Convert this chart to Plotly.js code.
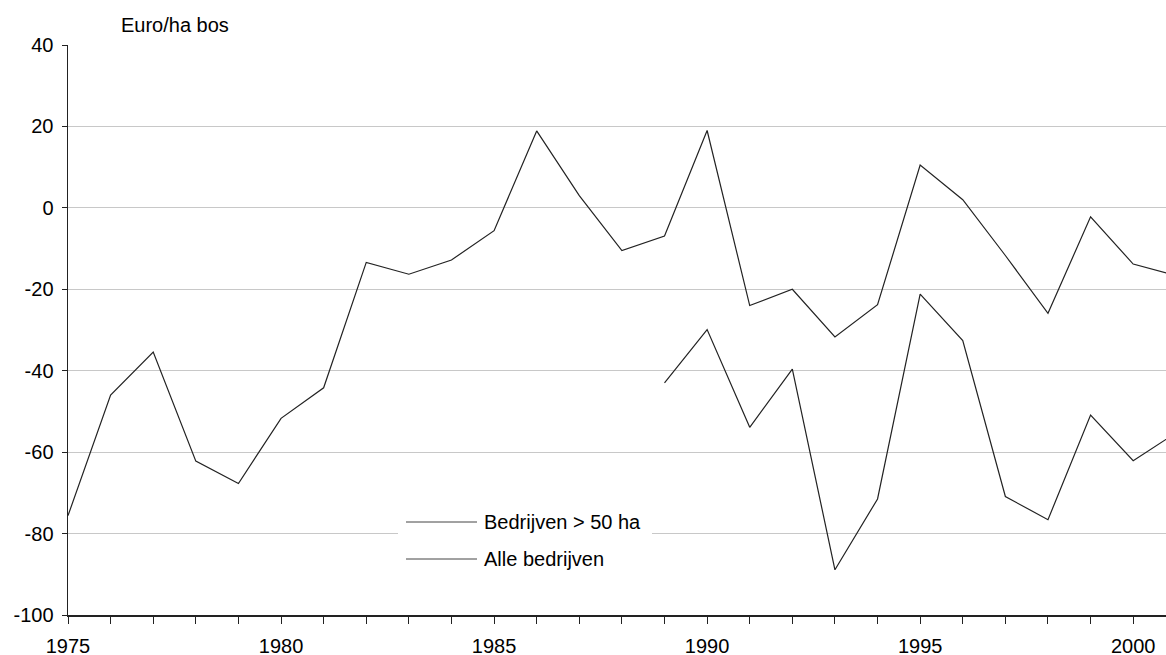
<!DOCTYPE html>
<html>
<head>
<meta charset="utf-8">
<script src="https://cdn.plot.ly/plotly-3.0.1.min.js"></script>
<style>html,body{margin:0;padding:0;background:#fff;}#chart{width:1166px;height:655px;}</style>
</head>
<body>
<div id="chart"></div>
<script>
// Data
const yearsAll = [1975,1976,1977,1978,1979,1980,1981,1982,1983,1984,1985,1986,1987,1988,1989,1990,1991,1992,1993,1994,1995,1996,1997,1998,1999,2000,2001];
const valuesAll = [-75.6,-46.0,-35.4,-62.2,-67.7,-51.7,-44.2,-13.4,-16.3,-12.8,-5.6,18.9,3.0,-10.5,-6.9,19.0,-24.0,-20.0,-31.7,-23.8,10.5,2.0,-11.7,-25.9,-2.2,-13.8,-16.6];
const yearsLarge = [1989,1990,1991,1992,1993,1994,1995,1996,1997,1998,1999,2000,2001];
const valuesLarge = [-43.0,-29.9,-53.9,-39.6,-88.9,-71.5,-21.2,-32.6,-70.9,-76.6,-50.9,-62.1,-55.3];
const seriesNames = ["Bedrijven > 50 ha", "Alle bedrijven"];
const yTickVals = [-100,-80,-60,-40,-20,0,20,40];
const yTickText = ["-100","-80","-60","-40","-20","0","20","40"];
const xTickYears = yearsAll.slice(0, 26);
const xTickText = xTickYears.map(y => (y % 5 === 0 ? String(y) : ""));
const yUnit = "Euro/ha bos";

const font = "Liberation Sans, Arial, sans-serif";
const fs = 20;
const W = 1166, H = 655;
const mL = 68, mR = 0, mT = 45, mB = 40;
const pw = W - mL - mR, ph = H - mT - mB;
function px(x){ return (x - mL) / pw; }
function py(y){ return (H - mB - y) / ph; }

const traces = [
  {x: yearsLarge, y: valuesLarge, name: seriesNames[0], type: "scatter", mode: "lines",
   line: {color: "#222", width: 1.2}, hoverinfo: "x+y"},
  {x: yearsAll, y: valuesAll, name: seriesNames[1], type: "scatter", mode: "lines",
   line: {color: "#222", width: 1.2}, hoverinfo: "x+y"}
];

const legendLines = [522, 559];
const shapes = [
  {type: "rect", xref: "paper", yref: "paper", x0: px(398), x1: px(652), y0: py(505), y1: py(577),
   fillcolor: "#ffffff", line: {width: 0}, layer: "above"}
];
const annotations = [
  {xref: "paper", yref: "paper", x: px(175), y: py(25), text: yUnit, showarrow: false,
   xanchor: "center", yanchor: "middle", font: {family: font, size: fs, color: "#000"}}
];
seriesNames.forEach((n, i) => {
  shapes.push({type: "line", xref: "paper", yref: "paper", x0: px(406), x1: px(477),
    y0: py(legendLines[i]), y1: py(legendLines[i]), line: {color: "#444", width: 1, dash: "solid"}, layer: "above"});
  annotations.push({xref: "paper", yref: "paper", x: px(482), y: py(legendLines[i]), text: n,
    showarrow: false, xanchor: "left", yanchor: "middle", font: {family: font, size: fs, color: "#000"}});
});

const layout = {
  width: W, height: H,
  margin: {l: mL, r: mR, t: mT, b: mB, pad: 0},
  paper_bgcolor: "#fff", plot_bgcolor: "#fff",
  showlegend: false,
  font: {family: font, size: fs, color: "#000"},
  xaxis: {
    range: [1975, 2000.77], tickmode: "array", tickvals: xTickYears, ticktext: xTickText,
    ticks: "outside", ticklen: 7, tickwidth: 1, tickcolor: "#222",
    showline: true, linecolor: "#222", linewidth: 1.5, showgrid: false, zeroline: false,
    tickfont: {family: font, size: fs, color: "#000"}, ticklabelstandoff: 5, fixedrange: true
  },
  yaxis: {
    range: [-100, 40], tickmode: "array", tickvals: yTickVals, ticktext: yTickText,
    ticks: "outside", ticklen: 5, tickwidth: 1, tickcolor: "#222",
    showline: true, linecolor: "#222", linewidth: 1.5,
    showgrid: true, gridcolor: "#c8c8c8", gridwidth: 1, zeroline: false,
    tickfont: {family: font, size: fs, color: "#000"}, ticklabelstandoff: 4, fixedrange: true
  },
  shapes: shapes,
  annotations: annotations
};

Plotly.newPlot("chart", traces, layout, {displayModeBar: false, staticPlot: true});
</script>
</body>
</html>
